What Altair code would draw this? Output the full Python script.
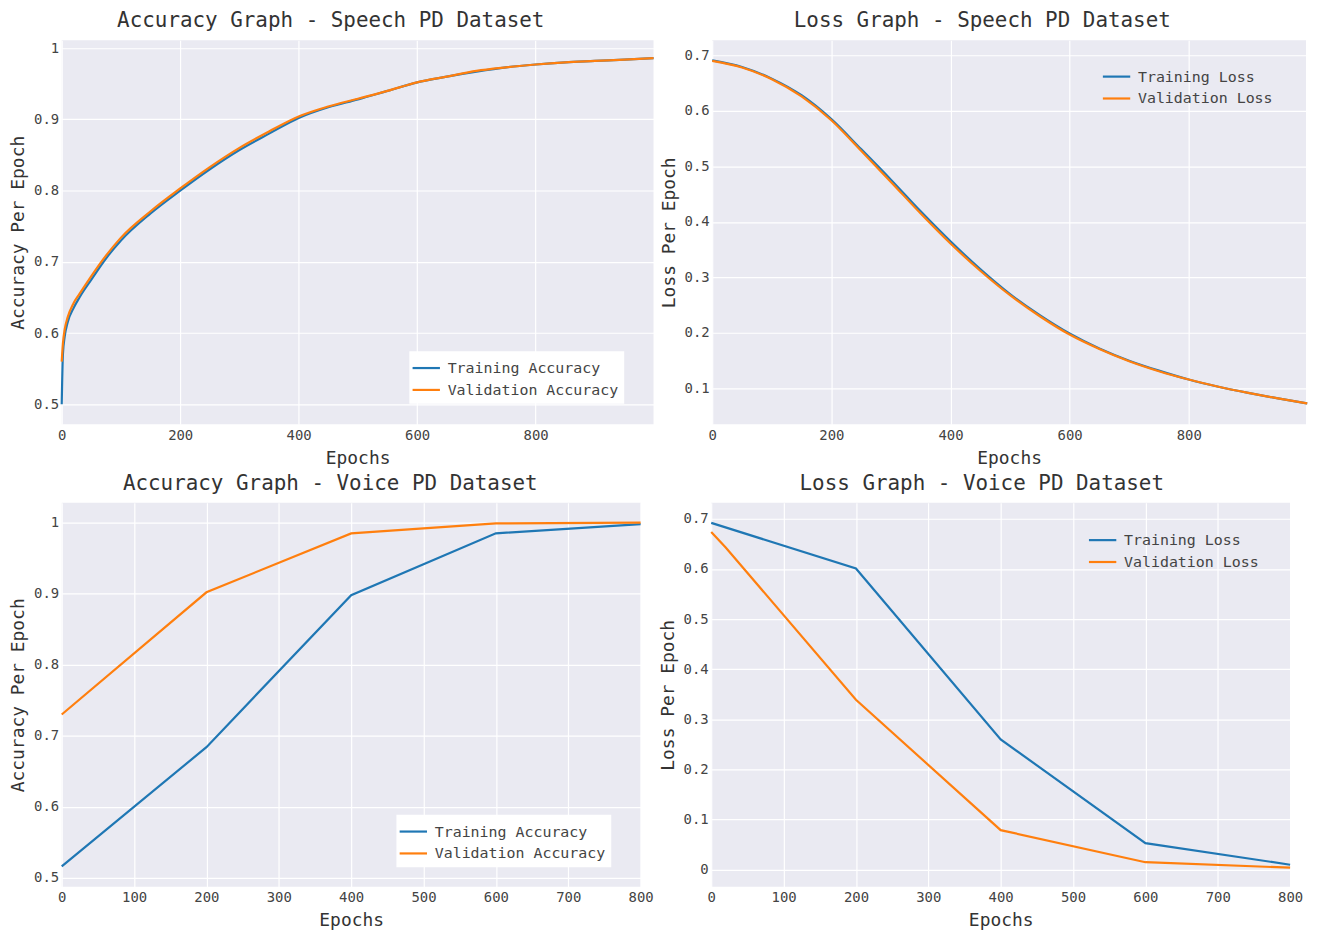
import altair as alt
import pandas as pd

# ---------------- data ----------------
speech_acc_epochs = [0, 2, 5, 10, 20, 30, 50, 75, 100, 150, 200, 250, 300, 350, 400,
                     450, 500, 550, 600, 650, 700, 750, 800, 850, 900, 950, 999]
speech_train_acc = [0.500, 0.570, 0.595, 0.615, 0.635, 0.650, 0.675, 0.705, 0.730, 0.768,
                    0.800, 0.830, 0.857, 0.880, 0.902, 0.917, 0.928, 0.940, 0.952, 0.960,
                    0.967, 0.973, 0.977, 0.980, 0.982, 0.984, 0.986]
speech_val_acc = [0.560, 0.585, 0.605, 0.622, 0.642, 0.655, 0.680, 0.709, 0.734, 0.771,
                  0.803, 0.833, 0.860, 0.883, 0.904, 0.918, 0.929, 0.940, 0.952, 0.960,
                  0.968, 0.973, 0.977, 0.980, 0.982, 0.984, 0.986]

speech_loss_epochs = [0, 50, 100, 150, 200, 250, 300, 350, 400, 450, 500, 550, 600,
                      650, 700, 750, 800, 850, 900, 950, 999]
speech_train_loss = [0.691, 0.679, 0.658, 0.628, 0.585, 0.531, 0.476, 0.419, 0.365, 0.315,
                     0.270, 0.232, 0.199, 0.172, 0.150, 0.132, 0.116, 0.103, 0.092, 0.082, 0.073]
speech_val_loss = [0.690, 0.678, 0.657, 0.626, 0.583, 0.528, 0.472, 0.415, 0.361, 0.312,
                   0.268, 0.230, 0.197, 0.171, 0.149, 0.131, 0.116, 0.103, 0.092, 0.082, 0.073]

voice_epochs = [0, 200, 400, 600, 800]
voice_train_acc = [0.516, 0.684, 0.898, 0.985, 0.998]
voice_val_acc = [0.730, 0.902, 0.985, 0.999, 1.000]
voice_train_loss = [0.692, 0.601, 0.260, 0.053, 0.010]
voice_val_loss_epochs = [0, 20, 200, 400, 600, 800]
voice_val_loss = [0.674, 0.643, 0.339, 0.079, 0.015, 0.004]

BLUE = "#1f77b4"
ORANGE = "#ff7f0e"
FONT = "DejaVu Sans Mono"


def long_df(ep1, v1, n1, ep2, v2, n2):
    a = pd.DataFrame({"Epoch": ep1, "Value": v1, "Series": n1})
    b = pd.DataFrame({"Epoch": ep2, "Value": v2, "Series": n2})
    return pd.concat([a, b], ignore_index=True)


def panel(df, title, tdx, ytitle, names, xdom, xticks, ydom, yticks, w, lx, ly, filled, interp):
    legend = alt.Legend(
        title=None, orient="none", legendX=lx, legendY=ly,
        symbolType="M-1.25,0H1.25", symbolSize=484, symbolStrokeWidth=2.2,
        labelFont=FONT, labelFontSize=15, labelColor="#444", labelLimit=0,
        labelOffset=9, rowPadding=1, padding=5,
        fillColor="white" if filled else "transparent",
        strokeColor="transparent",
    )
    return alt.Chart(df, title=alt.Title(title, fontSize=21, font=FONT, color="#333",
                                         fontWeight="normal", offset=9, dx=tdx)).mark_line(
        strokeWidth=2.2, interpolate=interp
    ).encode(
        x=alt.X("Epoch:Q", title="Epochs",
                scale=alt.Scale(domain=xdom, nice=False, zero=False),
                axis=alt.Axis(values=xticks, format="d", labelFlush=False)),
        y=alt.Y("Value:Q", title=ytitle,
                scale=alt.Scale(domain=ydom, nice=False, zero=False),
                axis=alt.Axis(values=yticks, format=".1~f", labelFlush=False)),
        color=alt.Color("Series:N", scale=alt.Scale(domain=names, range=[BLUE, ORANGE]),
                        legend=legend),
        order=alt.Order("Epoch:Q"),
    ).properties(width=w, height=386)


acc_names = ["Training Accuracy", "Validation Accuracy"]
loss_names = ["Training Loss", "Validation Loss"]

p1 = panel(long_df(speech_acc_epochs, speech_train_acc, acc_names[0],
                   speech_acc_epochs, speech_val_acc, acc_names[1]),
           "Accuracy Graph - Speech PD Dataset", -27, "Accuracy Per Epoch", acc_names,
           [0, 999], [0, 200, 400, 600, 800], [0.472, 1.011], [0.5, 0.6, 0.7, 0.8, 0.9, 1.0],
           595, 349, 312, True, "monotone")
p2 = panel(long_df(speech_loss_epochs, speech_train_loss, loss_names[0],
                   speech_loss_epochs, speech_val_loss, loss_names[1]),
           "Loss Graph - Speech PD Dataset", -27, "Loss Per Epoch", loss_names,
           [0, 997], [0, 200, 400, 600, 800], [0.0355, 0.727], [0.1, 0.2, 0.3, 0.4, 0.5, 0.6, 0.7],
           597, 389, 19, False, "monotone")
p3 = panel(long_df(voice_epochs, voice_train_acc, acc_names[0],
                   voice_epochs, voice_val_acc, acc_names[1]),
           "Accuracy Graph - Voice PD Dataset", -21, "Accuracy Per Epoch", acc_names,
           [0, 800], list(range(0, 801, 100)), [0.4874, 1.028], [0.5, 0.6, 0.7, 0.8, 0.9, 1.0],
           582, 336, 313, True, "linear")
p4 = panel(long_df(voice_epochs, voice_train_loss, loss_names[0],
                   voice_val_loss_epochs, voice_val_loss, loss_names[1]),
           "Loss Graph - Voice PD Dataset", -19, "Loss Per Epoch", loss_names,
           [0, 800], list(range(0, 801, 100)), [-0.034, 0.732], [0, 0.1, 0.2, 0.3, 0.4, 0.5, 0.6, 0.7],
           582, 376, 20, False, "linear")

row1 = alt.hconcat(p1, p2, spacing=1).resolve_scale(color="independent").resolve_legend(color="independent")
row2 = alt.hconcat(p3, p4, spacing=5).resolve_scale(color="independent").resolve_legend(color="independent")

chart = alt.vconcat(row1, row2, spacing=6).resolve_scale(
    color="independent"
).resolve_legend(color="independent").properties(
    padding={"left": 1, "top": 0, "right": 0, "bottom": 0}, background="white"
).configure_view(
    fill="#EAEAF2", stroke=None
).configure_axis(
    grid=True, gridColor="white", gridWidth=1.2, domain=False, ticks=False,
    labelFont=FONT, labelFontSize=14, labelColor="#444", labelPadding=4,
    titleFont=FONT, titleFontSize=18, titleColor="#333", titleFontWeight="normal",
    titlePadding=7,
).configure_axisY(labelPadding=3, titlePadding=6)

chart.save("out.html", embed_options={"renderer": "svg", "actions": False})
